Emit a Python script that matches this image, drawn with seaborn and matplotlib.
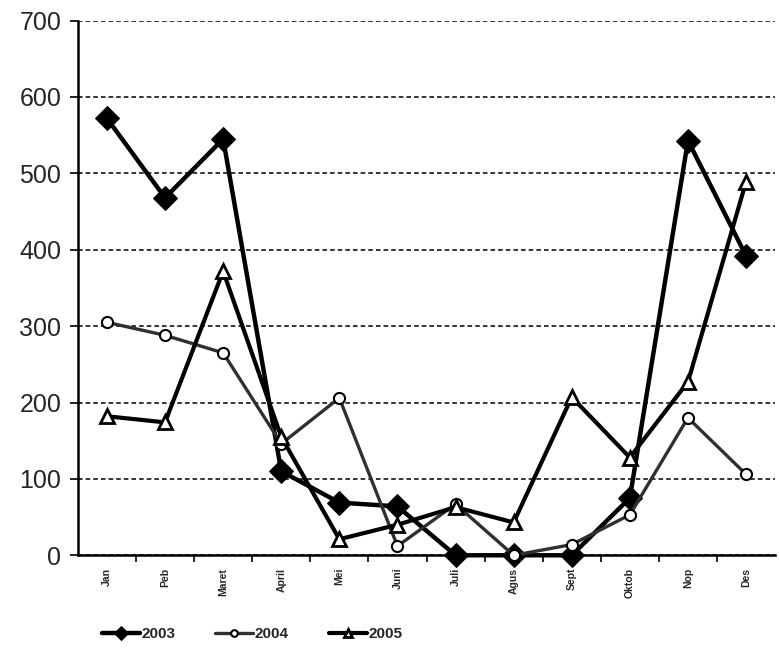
import pandas as pd
import numpy as np
import matplotlib.pyplot as plt
import seaborn as sns
from matplotlib.ticker import FixedLocator

# %% data

bulan = ['Jan', 'Peb', 'Maret', 'April', 'Mei', 'Juni', 'Juli', 'Agus',
         'Sept', 'Oktob', 'Nop', 'Des']
th2003 = [572, 468, 545, 110, 69, 64, 0, 0, 0, 75, 543, 392]
th2004 = [305, 288, 265, 146, 206, 12, 67, 0, 14, 53, 180, 106]
th2005 = [182, 174, 372, 155, 21, 40, 63, 43, 207, 128, 227, 489]

yticks = [0, 100, 200, 300, 400, 500, 600, 700]

df = pd.DataFrame({'Bulan': bulan, '2003': th2003, '2004': th2004, '2005': th2005})

# %% plot

sns.set_style('white')
plt.rcParams['font.family'] = ['Liberation Sans', 'DejaVu Sans']

fig = plt.figure(figsize=(7.79, 6.65), dpi=100)
ax = fig.add_axes([0.100, 0.165, 0.895, 0.804])

sns.lineplot(data=df, x='Bulan', y='2003', sort=False, ax=ax, color='black',
             lw=3.2, marker='D', ms=12, mfc='black', mec='black', label='2003',
             zorder=3, clip_on=False)
sns.lineplot(data=df, x='Bulan', y='2004', sort=False, ax=ax, color='#303030',
             lw=2.4, marker='o', ms=8, mfc='white', mec='black', mew=1.5,
             label='2004', zorder=4, clip_on=False)
sns.lineplot(data=df, x='Bulan', y='2005', sort=False, ax=ax, color='black',
             lw=3.0, marker='^', ms=10, mfc='white', mec='black', mew=2,
             label='2005', zorder=5, clip_on=False)

ax.set_xlim(-0.5, 11.5)
ax.set_ylim(0, 700)
ax.set_yticks(yticks)
ax.set_yticklabels([str(v) for v in yticks], fontsize=18)
ax.yaxis.grid(True, ls=(0, (3, 2)), color='black', lw=1.1)
ax.xaxis.grid(False)

ax.set_xticks(range(len(bulan)))
ax.set_xticklabels(bulan, rotation=90, fontsize=7.5, fontweight='bold')
ax.xaxis.set_minor_locator(FixedLocator(np.arange(0.5, 11.5, 1)))
ax.tick_params(axis='x', which='major', length=0, pad=9)
ax.tick_params(axis='x', which='minor', length=5, width=1.2, color='black',
               direction='out', bottom=True)
ax.tick_params(axis='y', length=6, width=1.2, color='black', direction='out',
               left=True, pad=6)

for s in ['top', 'right']:
    ax.spines[s].set_visible(False)
for s in ['left', 'bottom']:
    ax.spines[s].set_color('black')
    ax.spines[s].set_linewidth(1.8)

ax.set_xlabel('')
ax.set_ylabel('')
ax.get_legend().remove()

handles, labels = ax.get_legend_handles_labels()
fig.legend(handles, labels, loc='center', bbox_to_anchor=(252 / 779, 1 - 634 / 665),
           ncol=3, frameon=False, prop={'weight': 'bold', 'size': 11},
           handlelength=2.5, columnspacing=2.6, handletextpad=0.1,
           markerscale=0.6)

fig.savefig('out.png', dpi=100)
